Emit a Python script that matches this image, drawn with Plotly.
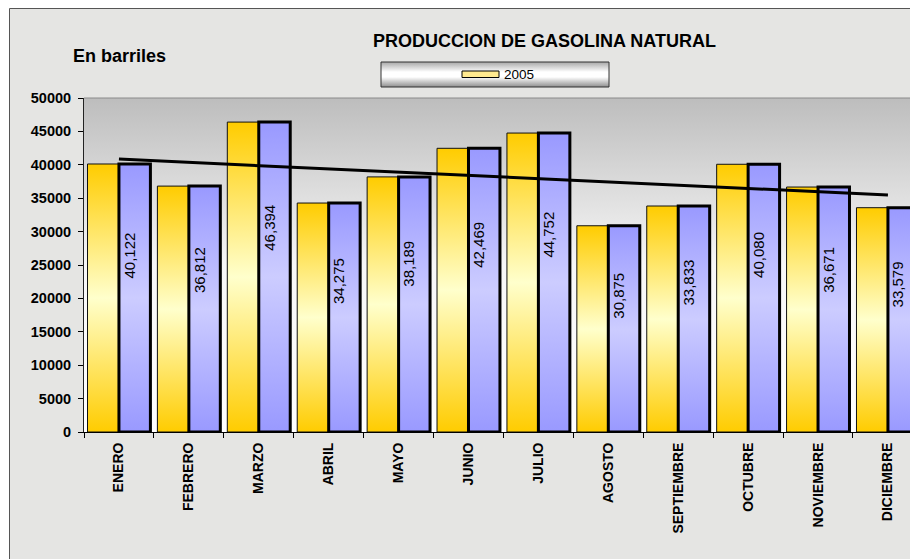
import numpy as np
import plotly.graph_objects as go

# Datos (barriles)
meses = ["ENERO", "FEBRERO", "MARZO", "ABRIL", "MAYO", "JUNIO", "JULIO",
         "AGOSTO", "SEPTIEMBRE", "OCTUBRE", "NOVIEMBRE", "DICIEMBRE"]
produccion_2005 = [40122, 36812, 46394, 34275, 38189, 42469, 44752,
                   30875, 33833, 40080, 36671, 33579]
y_ticks = [0, 5000, 10000, 15000, 20000, 25000, 30000, 35000, 40000, 45000, 50000]
serie_nombre = "2005"
titulo = "PRODUCCION DE GASOLINA NATURAL"
unidad = "En barriles"

# the page body keeps an 8px margin, so the figure is 8px smaller and shifted
OFF = 8
W, H = 918 - OFF, 559 - OFF
FONT = "Arial, Liberation Sans, sans-serif"

YELLOW = [[0, "#FFCC00"], [0.5, "#FFFFCC"], [1, "#FFCC00"]]
BLUE = [[0, "#9999FF"], [0.5, "#CCCCFF"], [1, "#9999FF"]]


def fx(x):
    return (x - OFF) / W


def fy(y):
    return 1 - (y - OFF) / H


fig = go.Figure()

# fondo degradado del area de trazado
fig.add_trace(go.Scatter(
    x=[-0.5, 12, 12, -0.5, -0.5], y=[0, 0, 50000, 50000, 0],
    mode="none", fill="toself",
    fillgradient=dict(type="vertical", start=0, stop=50000,
                      colorscale=[[0, "#FFFFFF"], [0.5, "#F7F7F7"], [1, "#BDBDBD"]]),
    hoverinfo="skip", showlegend=False))

# barras (amarilla y azul por mes)
for i, v in enumerate(produccion_2005):
    fig.add_trace(go.Scatter(
        x=[i - 0.45, i, i, i - 0.45, i - 0.45], y=[0, 0, v, v, 0],
        mode="lines", fill="toself",
        fillgradient=dict(type="vertical", colorscale=YELLOW),
        line=dict(color="#111111", width=1),
        hoverinfo="skip", showlegend=False))
    fig.add_trace(go.Scatter(
        x=[i, i + 0.45, i + 0.45, i, i], y=[0, 0, v, v, 0],
        mode="lines", fill="toself",
        fillgradient=dict(type="vertical", colorscale=BLUE),
        line=dict(color="black", width=3),
        hoverinfo="skip", showlegend=False))

# linea de tendencia
xs = np.arange(len(produccion_2005))
coef = np.polyfit(xs, produccion_2005, 1)
fig.add_trace(go.Scatter(
    x=[xs[0], xs[-1]], y=np.polyval(coef, [xs[0], xs[-1]]),
    mode="lines", line=dict(color="black", width=3),
    hoverinfo="skip", showlegend=False))

# caja de leyenda (ejes en pixeles de la ventana)
fig.add_trace(go.Scatter(
    x=[381, 609, 609, 381, 381], y=[62, 62, 87, 87, 62],
    xaxis="x2", yaxis="y2", mode="lines", fill="toself",
    fillgradient=dict(type="vertical",
                      colorscale=[[0, "#8E8E8E"], [0.4, "#FFFFFF"], [0.6, "#FFFFFF"], [1, "#A8A8A8"]]),
    line=dict(color="#333333", width=1),
    hoverinfo="skip", showlegend=False))

annotations = []
for i, v in enumerate(produccion_2005):
    annotations.append(dict(
        x=i + 0.15, y=v * 0.66, xref="x", yref="y",
        xanchor="center", yanchor="middle",
        text=f"{v:,}", textangle=-90, showarrow=False,
        font=dict(family=FONT, size=15, color="black")))

annotations += [
    dict(x=fx(544.5), y=fy(40.5), xref="paper", yref="paper", text=titulo,
         xanchor="center", yanchor="middle", showarrow=False,
         font=dict(family=FONT, size=18, color="black", weight="bold")),
    dict(x=fx(119), y=fy(56), xref="paper", yref="paper", text=unidad,
         xanchor="center", yanchor="middle", showarrow=False,
         font=dict(family=FONT, size=18, color="black", weight="bold")),
    dict(x=fx(502), y=fy(74.5), xref="paper", yref="paper", text=serie_nombre,
         xanchor="left", yanchor="middle", showarrow=False,
         font=dict(family=FONT, size=13.5, color="black")),
]

shapes = [
    dict(type="rect", xref="paper", yref="paper", layer="below",
         x0=fx(9.5), y0=fy(8.5), x1=fx(940), y1=fy(580),
         fillcolor="#E5E5E3", line=dict(color="#555555", width=1)),
    dict(type="line", xref="paper", yref="paper",
         x0=fx(84), y0=fy(98), x1=1.01, y1=fy(98),
         line=dict(color="#8A8A8A", width=1)),
    dict(type="rect", xref="paper", yref="paper",
         x0=fx(462), y0=fy(71), x1=fx(499), y1=fy(77.5),
         fillcolor="#FFE98F", line=dict(color="black", width=1)),
]

fig.update_layout(
    width=W, height=H, autosize=False,
    margin=dict(l=0, r=0, t=0, b=0),
    paper_bgcolor="white",
    plot_bgcolor="rgba(0,0,0,0)",
    showlegend=False,
    annotations=annotations,
    shapes=shapes,
    xaxis=dict(
        domain=[fx(84), 1], range=[-0.5, 11.43],
        tickmode="array", tickvals=list(range(len(meses))), ticktext=meses,
        tickangle=-90, ticks="", ticklabelstandoff=4,
        tickfont=dict(family=FONT, size=14, color="black", weight="bold"),
        showline=True, linecolor="black", linewidth=1,
        showgrid=False, zeroline=False, automargin=False,
        minor=dict(tickmode="array", tickvals=[i - 0.5 for i in range(13)],
                   ticks="outside", ticklen=5, tickcolor="black", tickwidth=1,
                   showgrid=False),
    ),
    yaxis=dict(
        domain=[fy(432), fy(98)], range=[0, 50000],
        tickmode="array", tickvals=y_ticks, ticktext=[str(t) for t in y_ticks],
        ticks="outside", ticklen=5, tickcolor="black", ticklabelstandoff=4,
        tickfont=dict(family=FONT, size=14.5, color="black", weight="bold"),
        showline=True, linecolor="#222222", linewidth=1,
        showgrid=False, zeroline=False, automargin=False,
    ),
    xaxis2=dict(domain=[0, 1], range=[OFF, 918], visible=False, anchor="y2"),
    yaxis2=dict(domain=[0, 1], range=[559, OFF], visible=False, anchor="x2"),
)

fig.write_html("out.html")
